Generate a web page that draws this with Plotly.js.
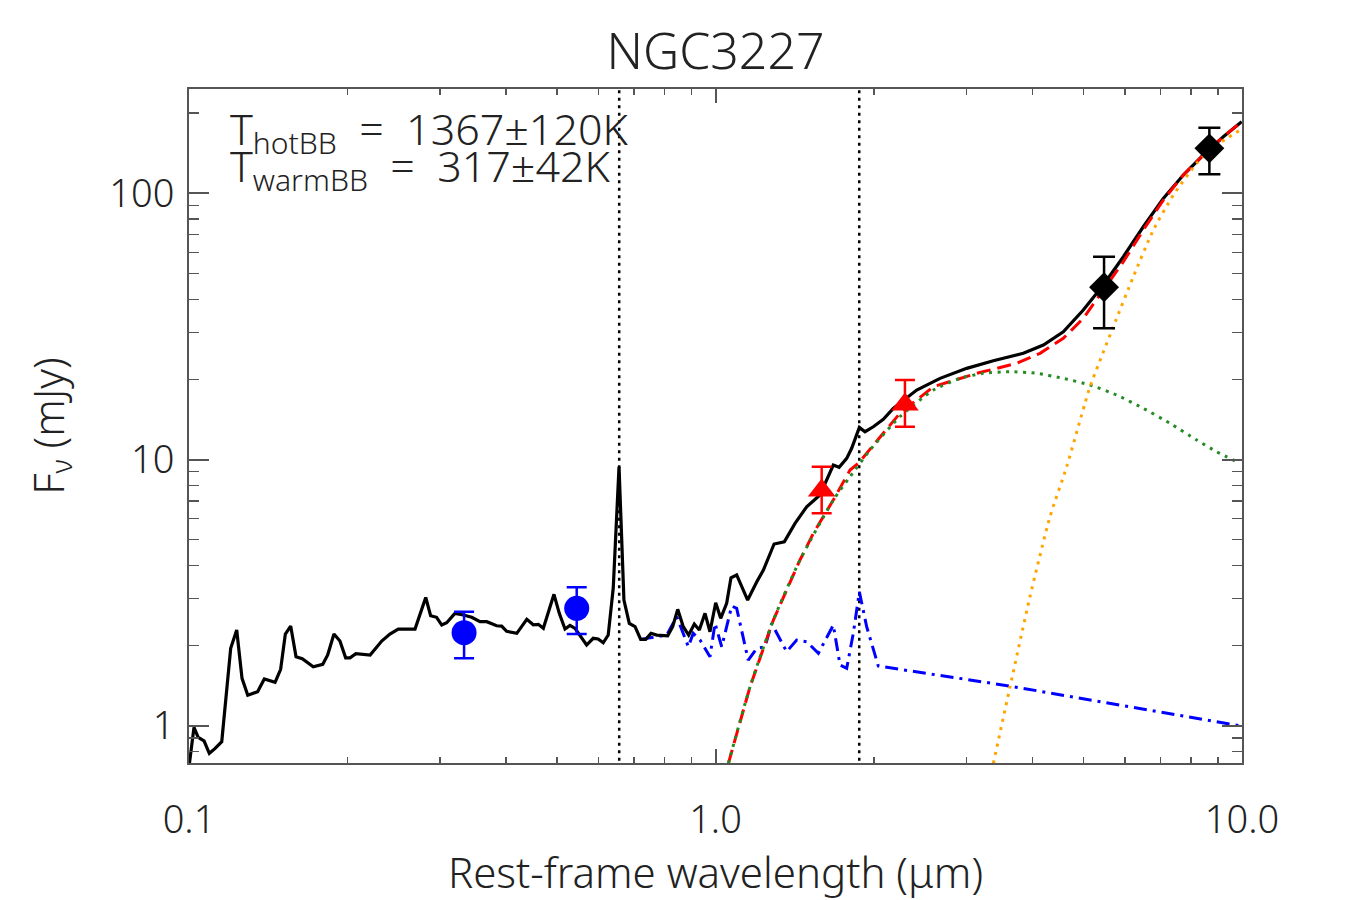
<!DOCTYPE html>
<html>
<head>
<meta charset="utf-8">
<script src="https://cdn.plot.ly/plotly-3.0.1.min.js"></script>
<style>html,body{margin:0;padding:0;background:#fff;}#chart{width:1350px;height:900px;}</style>
</head>
<body>
<div id="chart"></div>
<script>
// ---- Data ----
// Total model / observed spectrum (black solid)
const totalWave = [0.100,0.1022,0.1041,0.1068,0.1093,0.1120,0.1154,0.1200,0.1232,0.1261,0.1293,0.1350,0.1390,0.1457,0.1493,0.1524,0.1560,0.1597,0.1641,0.1722,0.1795,0.1834,0.1885,0.1935,0.1984,0.2022,0.2075,0.2208,0.2323,0.2408,0.2497,0.2687,0.2816,0.2877,0.2953,0.3020,0.3086,0.3200,0.3319,0.3443,0.3570,0.3677,0.3840,0.3925,0.4012,0.4194,0.4381,0.4508,0.4608,0.4710,0.4934,0.5050,0.5178,0.5292,0.5410,0.5691,0.5858,0.5987,0.6120,0.6255,0.6394,0.6558,0.6700,0.6859,0.7033,0.7210,0.7370,0.7543,0.7734,0.8114,0.8292,0.8477,0.8685,0.8893,0.9115,0.9316,0.9552,0.9761,1.0009,1.023,1.050,1.070,1.097,1.151,1.198,1.233,1.292,1.351,1.416,1.490,1.579,1.674,1.717,1.775,1.814,1.876,1.923,1.994,2.083,2.176,2.411,2.670,3.000,3.371,3.843,4.195,4.577,4.995,5.453,5.952,6.494,7.088,7.736,8.444,9.215,9.986];
const totalFlux = [0.70,0.986,0.905,0.878,0.788,0.820,0.871,1.953,2.288,1.507,1.301,1.342,1.498,1.455,1.629,2.211,2.369,1.816,1.785,1.665,1.701,1.844,2.211,2.081,1.800,1.800,1.864,1.844,2.081,2.211,2.308,2.308,3.035,2.590,2.555,2.389,2.437,2.644,2.606,2.555,2.459,2.459,2.375,2.369,2.263,2.224,2.510,2.395,2.404,2.322,3.116,2.644,2.308,2.383,2.322,2.010,2.130,2.117,2.050,2.191,3.291,9.40,2.966,2.424,2.355,2.111,2.111,2.224,2.191,2.178,2.355,2.737,2.355,2.191,2.410,2.288,2.644,2.255,2.898,2.532,2.883,3.597,3.684,2.966,3.475,3.846,4.816,4.912,5.759,6.647,7.357,9.535,9.349,10.10,11.02,13.21,12.72,13.28,14.16,15.57,18.24,20.18,22.01,23.50,25.06,26.92,30.21,36.44,45.24,57.79,74.91,95.76,117.2,139.3,163.2,185.8];

// Stellar/AGN template (blue dash-dot)
const templWave = [0.7210,0.7734,0.8078,0.8441,0.8880,0.9073,0.9345,0.9761,0.9979,1.0276,1.0735,1.097,1.154,1.198,1.242,1.278,1.307,1.365,1.426,1.490,1.568,1.674,1.724,1.775,1.827,1.876,1.937,2.038,3.626,9.986];
const templFlux = [2.111,2.154,2.191,2.568,1.980,2.224,2.099,1.816,2.424,1.980,2.817,2.761,1.765,1.953,1.980,2.424,2.224,1.897,2.099,2.069,1.871,2.389,1.690,1.643,2.224,3.187,2.355,1.676,1.409,0.997];

// Hot + warm blackbody sum (red dashed)
const bbSumWave = [1.058,1.163,1.288,1.447,1.534,1.674,1.801,1.867,2.240,2.593,3.134,3.733,4.134,4.577,4.995,5.453,5.952,6.494,7.088,7.736,8.444,9.215,9.986];
const bbSumFlux = [0.722,1.401,2.495,4.194,5.283,7.045,9.133,9.676,14.92,18.77,21.08,22.98,25.06,28.53,33.92,43.33,55.34,72.80,94.37,117.2,139.3,163.2,185.8];

// Hot blackbody (green dotted)
const hotWave = [1.058,1.163,1.288,1.447,1.674,1.801,1.966,2.240,2.593,2.913,3.226,3.626,4.074,4.577,5.143,5.781,6.494,7.298,8.202,8.952,9.913];
const hotFlux = [0.722,1.401,2.495,4.194,7.045,8.617,10.86,14.48,18.24,20.18,21.08,21.37,21.08,20.18,19.05,17.47,15.57,13.68,11.84,10.70,9.676];

// Warm blackbody (orange dotted)
const warmWave = [3.371,3.626,3.956,4.318,4.645,5.032,5.143,5.696,6.217,6.785,7.406,8.202,8.952,9.913];
const warmFlux = [0.722,1.401,3.052,6.098,9.397,16.26,18.77,31.54,48.62,72.80,98.54,129.6,151.8,172.9];

// Photometry
const optWave = [0.333,0.545];
const optFlux = [2.236,2.761];
const optErrHi = [0.446,0.550];
const optErrLo = [0.445,0.550];

const nirWave = [1.591,2.290];
const nirFlux = [7.65,16.10];
const nirErrHi = [1.75,3.79];
const nirErrLo = [1.37,2.82];

const mirWave = [5.47,8.67];
const mirFlux = [44.4,147.6];
const mirErrHi = [13.4,28.8];
const mirErrLo = [13.3,29.7];

// Emission-line markers (H-alpha, Pa-alpha)
const lineWaves = [0.6563,1.875];
const lineYSpan = [0.5,400];

// Axis ticks
const xTickVals = [0.1,1,10];
const xTickText = ['0.1','1.0','10.0'];
const xMinorVals = [0.2,0.3,0.4,0.5,0.6,0.7,0.8,0.9,2,3,4,5,6,7,8,9];
const yTickVals = [1,10,100];
const yTickText = ['1','10','100'];
const yMinorVals = [0.8,0.9,2,3,4,5,6,7,8,9,20,30,40,50,60,70,80,90,200];

const titleText = 'NGC3227';
const tHot = 'T<sub>hotBB</sub>\u00a0\u00a0=\u00a0\u00a01367±120K';
const tWarm = 'T<sub>warmBB</sub>\u00a0\u00a0=\u00a0\u00a0317±42K';

// ---- Build traces ----
const FONT = 'Noto Sans, DejaVu Sans, sans-serif';
const TXT = '#222';
const AX = '#555';

const traces = [];
lineWaves.forEach(w => {
  traces.push({x:[w,w], y:lineYSpan, mode:'lines', showlegend:false, hoverinfo:'skip',
    line:{color:'#000', width:2.5, dash:'3px,4.5px'}});
});
traces.push({x:templWave, y:templFlux, mode:'lines', showlegend:false,
  line:{color:'#0000FF', width:3, dash:'13px,6px,3px,6px'}});
traces.push({x:totalWave, y:totalFlux, mode:'lines', showlegend:false,
  line:{color:'#000', width:3.2}});
traces.push({x:bbSumWave, y:bbSumFlux, mode:'lines', showlegend:false,
  line:{color:'#FF0000', width:3, dash:'14px,7px'}});
traces.push({x:hotWave, y:hotFlux, mode:'lines', showlegend:false, line:{shape:'spline', smoothing:0.6,
  color:'#228B22', width:3, dash:'3px,5.5px'}});
traces.push({x:warmWave, y:warmFlux, mode:'lines', showlegend:false, line:{shape:'spline', smoothing:0.6,
  color:'#FFA500', width:3, dash:'3px,5.5px'}});
traces.push({x:optWave, y:optFlux, mode:'markers', showlegend:false,
  marker:{symbol:'circle', size:25, color:'#0000FF'},
  error_y:{type:'data', symmetric:false, array:optErrHi, arrayminus:optErrLo, color:'#0000FF', thickness:2.5, width:10}});
traces.push({x:nirWave, y:nirFlux, mode:'markers', showlegend:false,
  marker:{symbol:'triangle-up', size:24, color:'#FF0000'},
  error_y:{type:'data', symmetric:false, array:nirErrHi, arrayminus:nirErrLo, color:'#FF0000', thickness:2.5, width:10}});
traces.push({x:mirWave, y:mirFlux, mode:'markers', showlegend:false,
  marker:{symbol:'diamond', size:23, color:'#000'},
  error_y:{type:'data', symmetric:false, array:mirErrHi, arrayminus:mirErrLo, color:'#000', thickness:2.5, width:11}});

const layout = {
  width:1350, height:900,
  paper_bgcolor:'#fff', plot_bgcolor:'#fff',
  margin:{l:189, r:108, t:89, b:137},
  font:{family:FONT, color:TXT, size:38, weight:300},
  title:{text:titleText, font:{family:FONT, size:50, color:TXT, weight:300},
    x:0.5, xref:'paper', xanchor:'center', y:1-51/900, yref:'container', yanchor:'middle'},
  xaxis:{type:'log', range:[-1,1], autorange:false,
    tickmode:'array', tickvals:xTickVals, ticktext:xTickText,
    ticks:'inside', ticklen:14, tickwidth:2, tickcolor:AX,
    showline:true, linecolor:AX, linewidth:2, mirror:'allticks',
    showgrid:false, zeroline:false, ticklabelstandoff:22,
    tickfont:{family:FONT, size:38, color:TXT, weight:300},
    minor:{tickmode:'array', tickvals:xMinorVals, ticks:'inside', ticklen:6, tickwidth:1.5, tickcolor:AX, showgrid:false},
    title:{text:'Rest-frame wavelength (μm)', standoff:8, font:{family:FONT, size:42, color:TXT, weight:300}}},
  yaxis:{type:'log', range:[-0.140,2.392], autorange:false,
    tickmode:'array', tickvals:yTickVals, ticktext:yTickText,
    ticks:'inside', ticklen:20, tickwidth:2, tickcolor:AX,
    showline:true, linecolor:AX, linewidth:2, mirror:'allticks',
    showgrid:false, zeroline:false, ticklabelstandoff:5,
    tickfont:{family:FONT, size:38, color:TXT, weight:300},
    minor:{tickmode:'array', tickvals:yMinorVals, ticks:'inside', ticklen:10, tickwidth:1.5, tickcolor:AX, showgrid:false},
    title:{text:'F<sub>ν</sub> (mJy)', standoff:32, font:{family:FONT, size:42, color:TXT, weight:300}}},
  annotations:[
    {text:tHot, xref:'paper', yref:'paper', x:(228-189)/1053, y:(763-131)/674, xanchor:'left', yanchor:'middle',
      showarrow:false, font:{family:FONT, size:43, color:TXT, weight:300}},
    {text:tWarm, xref:'paper', yref:'paper', x:(228-189)/1053, y:(763-168)/674, xanchor:'left', yanchor:'middle',
      showarrow:false, font:{family:FONT, size:43, color:TXT, weight:300}}
  ]
};

Plotly.newPlot('chart', traces, layout, {displayModeBar:false, staticPlot:true});
</script>
</body>
</html>
